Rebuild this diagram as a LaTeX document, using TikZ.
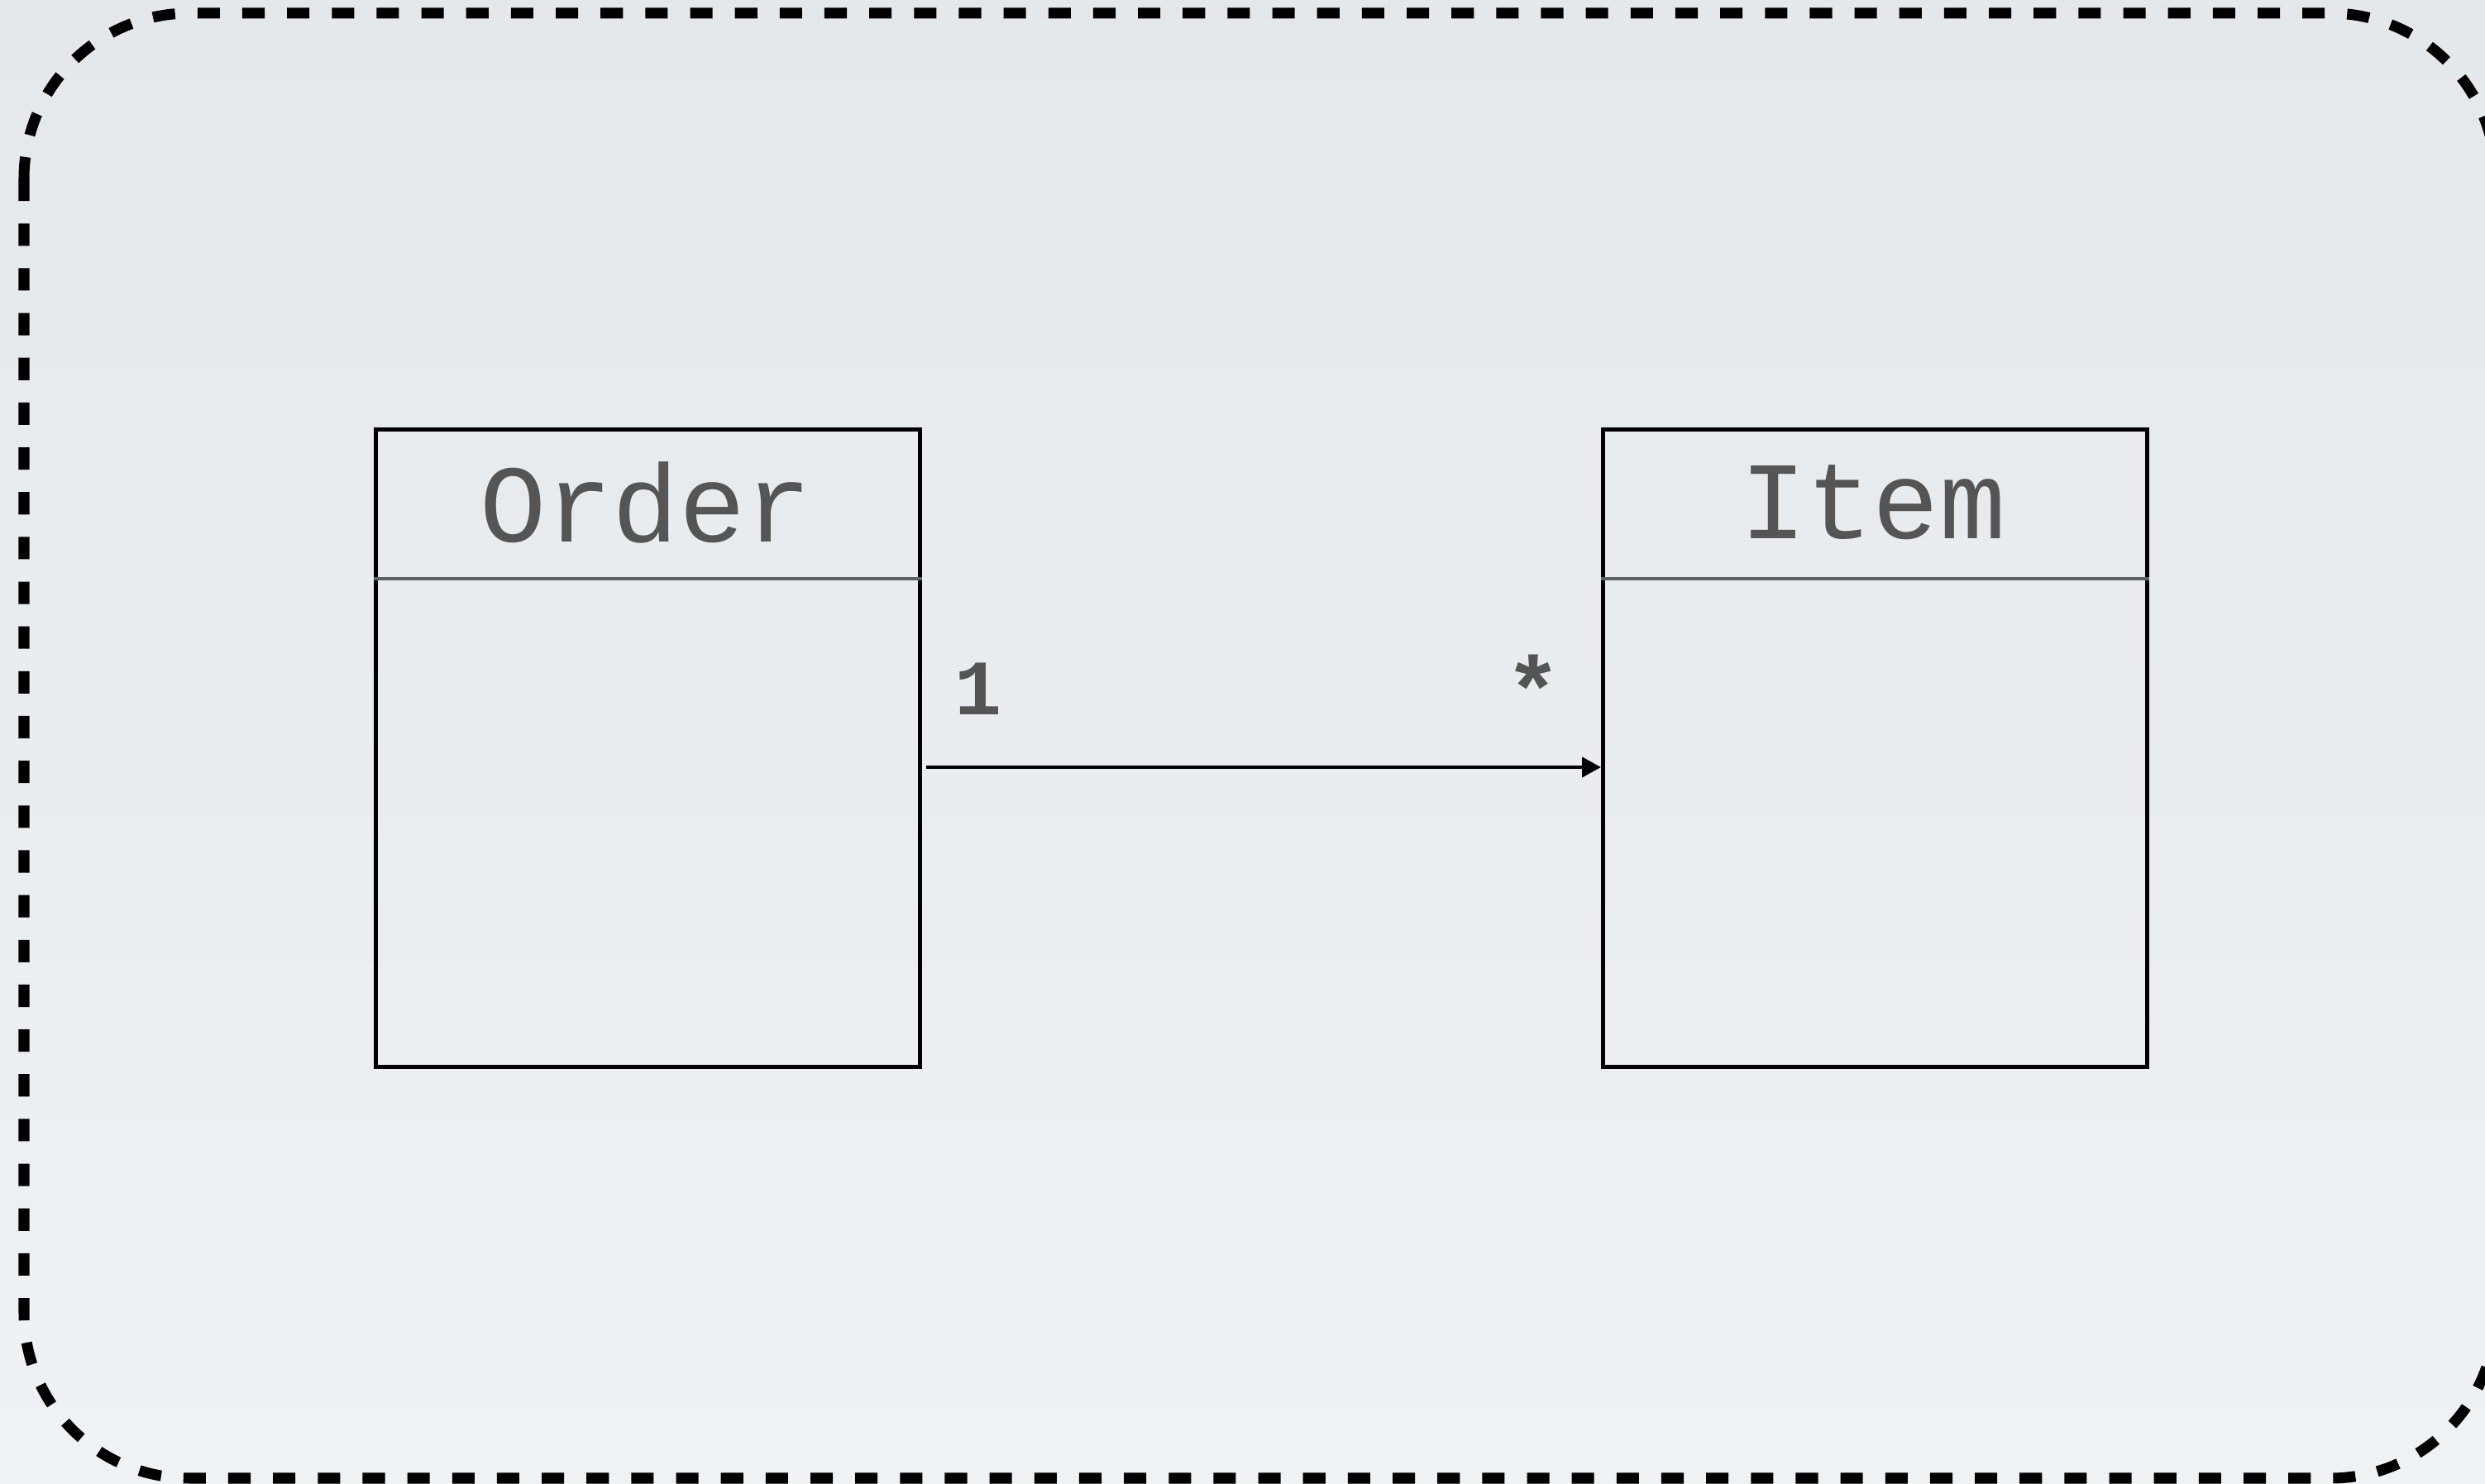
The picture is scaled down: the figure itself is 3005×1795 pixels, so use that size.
\documentclass[tikz,border=0pt]{standalone}
\usepackage{fontspec}
\setmonofont{Liberation Mono}
\usetikzlibrary{arrows.meta}
\definecolor{bgtop}{HTML}{E5E8EB}
\definecolor{bgbot}{HTML}{EFF1F3}
\definecolor{inkgray}{HTML}{555555}
\definecolor{sepgray}{HTML}{5E6265}
\tikzset{
  px/.style={x=0.01cm,y=-0.01cm},
  frame/.style={draw=black,line width=3.7pt,dash pattern=on 7.7pt off 7.7pt,rounded corners=2cm},
  classbox/.style={draw=black,line width=1.42pt,minimum width=6.58cm,minimum height=7.71cm,anchor=north west,inner sep=0pt},
  classname/.style={text=inkgray,font=\ttfamily\fontsize{38}{44}\selectfont,inner sep=0pt},
  sepline/.style={draw=sepgray,line width=1.1pt},
  assoc/.style={draw=black,line width=1.2pt,-{Triangle[length=0.23cm,width=0.24cm]}},
  mult/.style={text=inkgray,font=\ttfamily\bfseries\fontsize{27}{32}\selectfont,inner sep=0pt,anchor=base}
}
\begin{document}
\begin{tikzpicture}[px]
  % page and background
  \useasboundingbox (0,0) rectangle (3005,1795);
  \clip (0,0) rectangle (3005,1795);
  \shade[top color=bgtop,bottom color=bgbot] (0,0) rectangle (3005,1795);
  % dashed package frame
  \draw[frame] (29,16) rectangle (3018,1788);

  % class boxes
  \node[classbox] (order) at (452,517) {};
  \node[classbox] (item) at (1936,517) {};
  \draw[sepline] (order.west |- 0,700) -- (order.east |- 0,700);
  \draw[sepline] (item.west |- 0,700) -- (item.east |- 0,700);
  \node[classname] (ordertitle) at (781,608) {Order};
  \node[classname] (itemtitle) at (2265,608) {Item};

  % association
  \coordinate (assocstart) at (1120,928);
  \draw[assoc] (assocstart) -- (assocstart -| item.west);
  \node[mult] (multone) at (1183,865) {1};
  \node[mult,font=\ttfamily\bfseries\fontsize{32}{36}\selectfont] (multmany) at (1854,874) {*};
\end{tikzpicture}
\end{document}
